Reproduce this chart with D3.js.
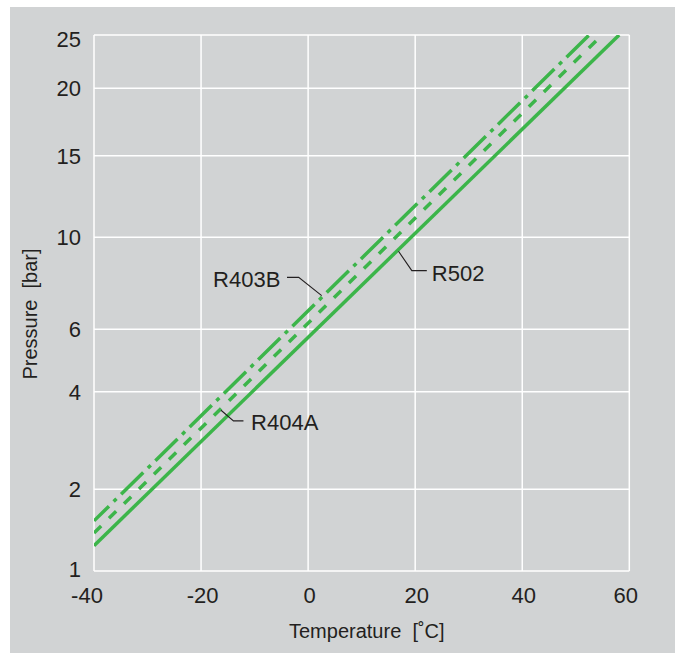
<!DOCTYPE html>
<html>
<head>
<meta charset="utf-8">
<script src="https://cdn.jsdelivr.net/npm/d3@7"></script>
<style>
  html, body { margin: 0; padding: 0; background: #ffffff; }
  svg { display: block; }
  text { font-family: "Liberation Sans", Arial, Helvetica, sans-serif; fill: #231f20; }
</style>
</head>
<body>
<svg id="chart" width="675" height="653"></svg>
<script>
// ---- data ----
const xTicks = [-40, -20, 0, 20, 40, 60];
const yTicks = [1, 2, 4, 6, 10, 15, 20, 25];
const seriesNames = ["R502", "R404A", "R403B"];
const r502 = [[-40, 1.24], [58.1, 25]];
const r404a = [[-40, 1.38], [54.9, 25]];
const r403b = [[-40, 1.53], [52.5, 25]];
const labelTemps = [16.55, -16.6, 2.87]; // where each label's leader touches its line
const xTitle = "Temperature  [˚C]";
const yTitle = "Pressure  [bar]";

(function () {
// ---- layout ----
const W = 675, H = 653;
const pL = 94, pR = 629.3, pT = 35, pB = 571;
const green = "#3cb54a";

const svg = d3.select("#chart");
svg.append("rect").attr("x", 10).attr("y", 7).attr("width", W - 10).attr("height", H - 7).attr("fill", "#d1d3d4");

const x = d3.scaleLinear().domain([-40, 60]).range([pL, pR]);
// the pressure axis is neither linear nor logarithmic: map each ruled value to its place
const y = d3.scaleLog().domain(yTicks).range([571, 489.3, 391.7, 329.3, 237.3, 155.7, 88.3, 35]);

// grid
const grid = svg.append("g").attr("stroke", "#ffffff").attr("stroke-width", 1.5);
grid.selectAll("line.v").data(xTicks).join("line").attr("class", "v")
  .attr("x1", d => x(d)).attr("x2", d => x(d)).attr("y1", pT).attr("y2", pB);
grid.selectAll("line.h").data(yTicks).join("line").attr("class", "h")
  .attr("x1", pL).attr("x2", pR).attr("y1", d => y(d)).attr("y2", d => y(d));

// tick labels
const xNudge = {"-40": -7, "60": -3.5};
svg.append("g").selectAll("text").data(xTicks).join("text")
  .attr("x", d => x(d) + (xNudge[d] !== undefined ? xNudge[d] : 1.5))
  .attr("y", 602.7).attr("text-anchor", "middle").attr("font-size", 22)
  .text(d => d);
const yNudge = {"25": 4.5, "1": -2};
svg.append("g").selectAll("text").data(yTicks).join("text")
  .attr("x", 81).attr("y", d => y(d) + 7.9 + (yNudge[d] || 0))
  .attr("text-anchor", "end").attr("font-size", 22)
  .text(d => d);

// axis titles
svg.append("text").attr("x", 289).attr("y", 638).attr("font-size", 20)
  .style("white-space", "pre").text(xTitle);
svg.append("text").attr("transform", "translate(36.5,314) rotate(-90)")
  .attr("text-anchor", "middle").attr("font-size", 20)
  .style("white-space", "pre").text(yTitle);

// lines
svg.append("clipPath").attr("id", "plotclip").append("rect")
  .attr("x", pL).attr("y", pT).attr("width", pR - pL).attr("height", pB - pT);
const line = d3.line().x(d => x(d[0])).y(d => y(d[1]));
const series = [
  {name: seriesNames[0], data: r502, dash: null, offset: 0},
  {name: seriesNames[1], data: r404a, dash: "10,11", offset: 0},
  {name: seriesNames[2], data: r403b, dash: "31,6.5,4,6.5", offset: 10}
];
const lg = svg.append("g").attr("clip-path", "url(#plotclip)");
lg.selectAll("path").data(series).join("path")
  .attr("d", d => line(d.data))
  .attr("fill", "none").attr("stroke", green).attr("stroke-width", 3.5)
  .attr("stroke-dasharray", d => d.dash).attr("stroke-dashoffset", d => d.offset);

// labels with leader lines
function pointAt(data, t) {
  const p0 = [x(data[0][0]), y(data[0][1])], p1 = [x(data[1][0]), y(data[1][1])];
  const px = x(t);
  const f = (px - p0[0]) / (p1[0] - p0[0]);
  return [px, p0[1] + f * (p1[1] - p0[1])];
}
const leaders = [
  {s: series[0], t: labelTemps[0], side: 1, ed: [13.3, 19.3], h: 15, tx: 5, ty: 10},
  {s: series[1], t: labelTemps[1], side: 1, ed: [12.4, 10.6], h: 10, tx: 7.6, ty: 9.4},
  {s: series[2], t: labelTemps[2], side: -1, ed: [-23, -18.3], h: -11.7, tx: -6.6, ty: 10}
];
const ann = svg.append("g");
leaders.forEach(l => {
  const a = pointAt(l.s.data, l.t);
  if (l.side > 0) a[0] += 1.8; else a[0] -= 1.8;
  const e = [a[0] + l.ed[0], a[1] + l.ed[1]];
  const end = [e[0] + l.h, e[1]];
  ann.append("path").attr("d", d3.line()([a, e, end]))
    .attr("fill", "none").attr("stroke", "#231f20").attr("stroke-width", 1.1);
  ann.append("text").attr("x", end[0] + l.tx).attr("y", end[1] + l.ty)
    .attr("text-anchor", l.side > 0 ? "start" : "end").attr("font-size", 22)
    .text(l.s.name);
});
})();
</script>
</body>
</html>
